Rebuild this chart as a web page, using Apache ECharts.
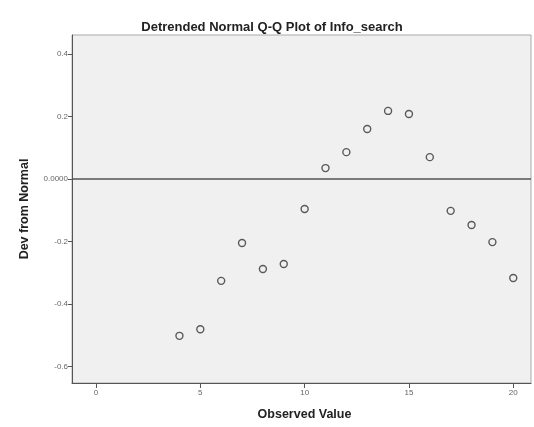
<!DOCTYPE html>
<html><head><meta charset="utf-8">
<script src="https://cdn.jsdelivr.net/npm/echarts@6/dist/echarts.min.js"></script>
<style>html,body{margin:0;padding:0;background:#fff}#c{width:534px;height:427px}</style>
</head><body><div id="c"></div>
<script>
const observed = [4,5,6,7,8,9,10,11,12,13,14,15,16,17,18,19,20];
const deviation = [-0.502,-0.481,-0.326,-0.205,-0.288,-0.272,-0.096,0.035,0.086,0.160,0.218,0.208,0.070,-0.102,-0.147,-0.202,-0.317];
const xTicks = [0,5,10,15,20];
const yTicks = [-0.6,-0.4,-0.2,0,0.2,0.4];

const chart = echarts.init(document.getElementById('c'));
const font = 'Liberation Sans, Arial, sans-serif';
chart.setOption({
  animation:false,
  backgroundColor:'#fff',
  title:{text:'Detrended Normal Q-Q Plot of Info_search',left:267,textAlign:'center',top:16,
    textStyle:{fontFamily:font,fontSize:13,fontWeight:'bold',color:'#222'}},
  grid:{left:72,top:35,right:3,bottom:44,show:true,backgroundColor:'#f0f0f0',borderColor:'#aaa',borderWidth:1},
  xAxis:{type:'value',min:-1.15,max:20.85,
    name:'Observed Value',nameLocation:'middle',nameGap:25,
    nameTextStyle:{fontFamily:font,fontSize:12.5,fontWeight:'bold',color:'#222',padding:[0,0,0,6]},
    axisLine:{show:true,onZero:false,lineStyle:{color:'#555',width:1}},
    axisTick:{show:true,inside:false,length:5,customValues:xTicks,lineStyle:{color:'#555'}},
    axisLabel:{customValues:xTicks,fontFamily:font,fontSize:8,color:'#666',margin:6},
    splitLine:{show:false}},
  yAxis:{type:'value',min:-0.653,max:0.461,
    name:'Dev from Normal',nameLocation:'middle',nameGap:41,
    nameTextStyle:{fontFamily:font,fontSize:12.5,fontWeight:'bold',color:'#222'},
    axisLine:{show:true,onZero:false,lineStyle:{color:'#555',width:1}},
    axisTick:{show:true,inside:false,length:4,customValues:yTicks,lineStyle:{color:'#555'}},
    axisLabel:{customValues:yTicks,fontFamily:font,fontSize:8,color:'#666',margin:4,
      formatter:v=>Math.abs(v)<1e-9?'0.0000':v.toFixed(1)},
    splitLine:{show:false}},
  series:[{type:'scatter',data:observed.map((x,i)=>[x,deviation[i]]),
    symbol:'circle',symbolSize:7,
    itemStyle:{color:'transparent',borderColor:'#333',borderWidth:1.4},
    markLine:{silent:true,symbol:'none',label:{show:false},
      lineStyle:{color:'#555',width:1.5,type:'solid'},data:[{yAxis:0}]}}]
});
</script></body></html>
